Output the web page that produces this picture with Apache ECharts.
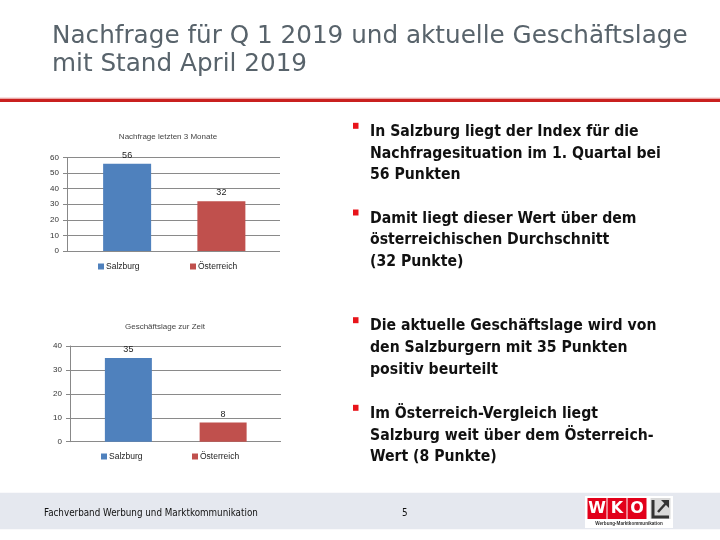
<!DOCTYPE html>
<html><head><meta charset="utf-8">
<script src="https://cdn.jsdelivr.net/npm/echarts@6/dist/echarts.min.js"></script>
<style>html,body{margin:0;padding:0;background:#fff}#c{width:720px;height:540px}</style>
</head><body><div id="c"></div>
<script>
const categories = ['Salzburg', 'Österreich'];
const nachfrageValues = [56, 32];
const geschaeftValues = [35, 8];
const chart1Title = 'Nachfrage letzten 3 Monate';
const chart2Title = 'Geschäftslage zur Zeit';
const chart1Max = 60, chart2Max = 40, tickStep = 10;
const titleLines = ['Nachfrage für Q 1 2019 und aktuelle Geschäftslage', 'mit Stand April 2019'];
const bullets = [
  ['In Salzburg liegt der Index für die', 'Nachfragesituation im 1. Quartal bei', '56 Punkten'],
  ['Damit liegt dieser Wert über dem', 'österreichischen Durchschnitt', '(32 Punkte)'],
  ['Die aktuelle Geschäftslage wird von', 'den Salzburgern mit 35 Punkten', 'positiv beurteilt'],
  ['Im Österreich-Vergleich liegt', 'Salzburg weit über dem Österreich-', 'Wert (8 Punkte)']
];
const footerText = 'Fachverband Werbung und Marktkommunikation';
const pageNumber = '5';
const colors = ['#4f81bd', '#c0504d'];

const chartFont = 'Liberation Sans';
const chart = echarts.init(document.getElementById('c'), null, {renderer: 'canvas'});

// font size that makes a text span a given width (layout helper)
const mctx = document.createElement('canvas').getContext('2d');
function fitSize(text, family, weight, width) {
  mctx.font = weight + ' 100px "' + family + '"';
  return 100 * width / mctx.measureText(text).width;
}
const titleSize = fitSize(titleLines[0], 'DejaVu Sans', 'normal', 636);
const bulletSize = fitSize(bullets[0][0], 'DejaVu Sans Condensed', 'bold', 269);
const footerSize = fitSize(footerText, 'DejaVu Sans Condensed', 'normal', 214);

function bgY(gi, max) {
  return {gridIndex: gi, type: 'value', min: 0, max: max, interval: tickStep,
    axisLine: {show: true, lineStyle: {color: '#888', width: 1}},
    axisTick: {show: true, length: 4, lineStyle: {color: '#888'}},
    axisLabel: {fontSize: 8, color: '#333', fontFamily: chartFont, margin: 8},
    splitLine: {show: true, lineStyle: {color: '#8a8a8a', width: 1}}};
}
function hidY(gi, max) {
  return {gridIndex: gi, type: 'value', min: 0, max: max, interval: tickStep, show: false, splitLine: {show: false}};
}
function catX(gi, show) {
  return {gridIndex: gi, type: 'category', data: categories, show: show, boundaryGap: true,
    axisLine: {show: false}, axisTick: {show: false}, axisLabel: {show: false}};
}
function seriesFor(values, xi, yi, bw) {
  return categories.map((name, i) => ({
    name: name, type: 'bar', xAxisIndex: xi, yAxisIndex: yi,
    barWidth: bw, barGap: '-100%',
    itemStyle: {color: colors[i]},
    label: {show: true, position: 'top', distance: 4, fontSize: 9, color: '#222', fontFamily: chartFont},
    data: values.map((v, j) => j === i ? v : '-')
  }));
}
function txt(x, y, text, size, family, fill, extra) {
  return {type: 'text', x: x, y: y, style: Object.assign({text: text, fontSize: size, fontFamily: family, fill: fill, align: 'left', verticalAlign: 'middle'}, extra || {})};
}

const graphic = [];
// title: baselines at 45 and 73.3
titleLines.forEach((t, i) => graphic.push(txt(52, [45, 73.3][i] - 0.35 * titleSize, t, titleSize, 'DejaVu Sans', '#58636b')));
// red line
graphic.push({type: 'rect', shape: {x: 0, y: 98.5, width: 720, height: 3.5}, style: {fill: '#c9201f'}});
graphic.push({type: 'rect', shape: {x: 0, y: 97.5, width: 720, height: 1}, style: {fill: '#f2c4c4'}});
// bullets
const blockBase = [137.3, 224, 331.7, 419.3];
bullets.forEach((lines, b) => {
  graphic.push({type: 'rect', shape: {x: 353, y: blockBase[b] - 14.5, width: 5.5, height: 6}, style: {fill: '#e8141a'}});
  lines.forEach((t, i) => graphic.push(txt(370, blockBase[b] + i * 21.7 - 0.35 * bulletSize, t, bulletSize, 'DejaVu Sans Condensed', '#111', {fontWeight: 'bold'})));
});
// chart titles
graphic.push(txt(168, 137, chart1Title, 8, chartFont, '#444', {align: 'center'}));
graphic.push(txt(165, 327, chart2Title, 8, chartFont, '#444', {align: 'center'}));
// footer
graphic.push({type: 'rect', shape: {x: 0, y: 492.7, width: 720, height: 36.5}, style: {fill: '#e5e8ef'}});
graphic.push(txt(44, 513, footerText, footerSize, 'DejaVu Sans Condensed', '#111'));
graphic.push(txt(402, 513, pageNumber, footerSize, 'DejaVu Sans Condensed', '#111'));
// logo
graphic.push({type: 'rect', shape: {x: 585, y: 496, width: 88, height: 32}, style: {fill: '#fff'}});
['W', 'K', 'O'].forEach((l, i) => {
  const x0 = [587.5, 607.5, 627.5][i];
  graphic.push({type: 'rect', shape: {x: x0, y: 498, width: 19, height: 21}, style: {fill: '#e2001a'}});
  graphic.push(txt(x0 + 9.5, 509, l, 16, 'DejaVu Sans', '#fff', {align: 'center', fontWeight: 'bold'}));
});
graphic.push({type: 'rect', shape: {x: 650.5, y: 498, width: 20, height: 21}, style: {fill: '#d9d9d9'}});
graphic.push({type: 'polyline', shape: {points: [[653, 500], [653, 517], [669, 517]]}, style: {stroke: '#333', lineWidth: 3, fill: null}});
graphic.push({type: 'line', shape: {x1: 658, y1: 512, x2: 667, y2: 502}, style: {stroke: '#333', lineWidth: 2.5}});
graphic.push({type: 'polygon', shape: {points: [[661, 500], [669, 500], [669, 508]]}, style: {fill: '#333'}});
graphic.push(txt(629, 524, 'Werbung·Marktkommunikation', 4.6, 'Liberation Sans', '#333', {align: 'center', fontWeight: 'bold'}));

const legendStyle = {itemWidth: 6, itemHeight: 6, icon: 'rect', textStyle: {fontSize: 8.5, color: '#222', fontFamily: chartFont, padding: [0, 0, 0, -3]}, padding: 0, selectedMode: false};

const option = {
  animation: false,
  grid: [
    {left: 67, right: 440, top: 157.5, bottom: 289},
    {left: 80, right: 451.5, top: 157.5, bottom: 289},
    {left: 70, right: 439, top: 346, bottom: 98.3},
    {left: 81, right: 449.5, top: 346, bottom: 98.3}
  ],
  xAxis: [catX(0, false), catX(1, false), catX(2, false), catX(3, false)],
  yAxis: [bgY(0, chart1Max), hidY(1, chart1Max), bgY(2, chart2Max), hidY(3, chart2Max)],
  legend: [
    Object.assign({data: [categories[0]], left: 98, top: 262}, legendStyle),
    Object.assign({data: [categories[1]], left: 190, top: 262}, legendStyle),
    Object.assign({data: [categories[0]], left: 101, top: 452}, legendStyle),
    Object.assign({data: [categories[1]], left: 192, top: 452}, legendStyle)
  ],
  series: [].concat(seriesFor(nachfrageValues, 1, 1, 48), seriesFor(geschaeftValues, 3, 3, 47)),
  graphic: graphic
};
chart.setOption(option);
</script></body></html>
